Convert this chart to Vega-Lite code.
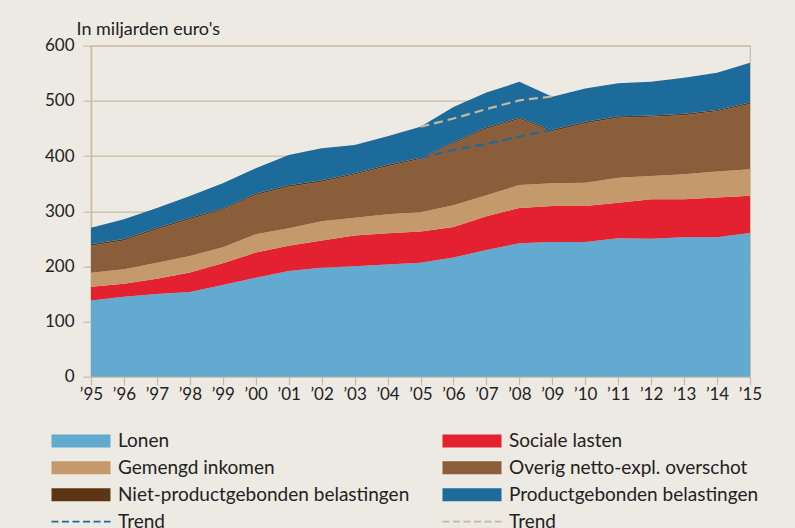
{
  "$schema": "https://vega.github.io/schema/vega-lite/v6.json",
  "width": 659,
  "height": 331,
  "autosize": {"type": "none"},
  "padding": {"left": 91, "top": 45.7, "right": 45, "bottom": 151.3},
  "background": "#EDEAE3",
  "config": {
    "font": "Lato",
    "view": {"stroke": "#C9BBA0", "strokeWidth": 1.2}
  },
  "datasets": {
    "bands": [
      {"year": 1995, "series": "Lonen", "rank": 1, "value": 138},
      {"year": 1996, "series": "Lonen", "rank": 1, "value": 145},
      {"year": 1997, "series": "Lonen", "rank": 1, "value": 150},
      {"year": 1998, "series": "Lonen", "rank": 1, "value": 153.5},
      {"year": 1999, "series": "Lonen", "rank": 1, "value": 166},
      {"year": 2000, "series": "Lonen", "rank": 1, "value": 179.5},
      {"year": 2001, "series": "Lonen", "rank": 1, "value": 191.5},
      {"year": 2002, "series": "Lonen", "rank": 1, "value": 197.5},
      {"year": 2003, "series": "Lonen", "rank": 1, "value": 200},
      {"year": 2004, "series": "Lonen", "rank": 1, "value": 203.5},
      {"year": 2005, "series": "Lonen", "rank": 1, "value": 206.5},
      {"year": 2006, "series": "Lonen", "rank": 1, "value": 216},
      {"year": 2007, "series": "Lonen", "rank": 1, "value": 229.5},
      {"year": 2008, "series": "Lonen", "rank": 1, "value": 242},
      {"year": 2009, "series": "Lonen", "rank": 1, "value": 244},
      {"year": 2010, "series": "Lonen", "rank": 1, "value": 244},
      {"year": 2011, "series": "Lonen", "rank": 1, "value": 251},
      {"year": 2012, "series": "Lonen", "rank": 1, "value": 250},
      {"year": 2013, "series": "Lonen", "rank": 1, "value": 253},
      {"year": 2014, "series": "Lonen", "rank": 1, "value": 253},
      {"year": 2015, "series": "Lonen", "rank": 1, "value": 260.5},

      {"year": 1995, "series": "Sociale lasten", "rank": 2, "value": 25},
      {"year": 1996, "series": "Sociale lasten", "rank": 2, "value": 23.5},
      {"year": 1997, "series": "Sociale lasten", "rank": 2, "value": 27.5},
      {"year": 1998, "series": "Sociale lasten", "rank": 2, "value": 35.5},
      {"year": 1999, "series": "Sociale lasten", "rank": 2, "value": 39.5},
      {"year": 2000, "series": "Sociale lasten", "rank": 2, "value": 45.5},
      {"year": 2001, "series": "Sociale lasten", "rank": 2, "value": 46},
      {"year": 2002, "series": "Sociale lasten", "rank": 2, "value": 49.5},
      {"year": 2003, "series": "Sociale lasten", "rank": 2, "value": 56},
      {"year": 2004, "series": "Sociale lasten", "rank": 2, "value": 56.5},
      {"year": 2005, "series": "Sociale lasten", "rank": 2, "value": 56.5},
      {"year": 2006, "series": "Sociale lasten", "rank": 2, "value": 55.5},
      {"year": 2007, "series": "Sociale lasten", "rank": 2, "value": 61.5},
      {"year": 2008, "series": "Sociale lasten", "rank": 2, "value": 64},
      {"year": 2009, "series": "Sociale lasten", "rank": 2, "value": 65.5},
      {"year": 2010, "series": "Sociale lasten", "rank": 2, "value": 65.5},
      {"year": 2011, "series": "Sociale lasten", "rank": 2, "value": 64.5},
      {"year": 2012, "series": "Sociale lasten", "rank": 2, "value": 71.5},
      {"year": 2013, "series": "Sociale lasten", "rank": 2, "value": 68.5},
      {"year": 2014, "series": "Sociale lasten", "rank": 2, "value": 72},
      {"year": 2015, "series": "Sociale lasten", "rank": 2, "value": 67.5},

      {"year": 1995, "series": "Gemengd inkomen", "rank": 3, "value": 25.5},
      {"year": 1996, "series": "Gemengd inkomen", "rank": 3, "value": 26.5},
      {"year": 1997, "series": "Gemengd inkomen", "rank": 3, "value": 29},
      {"year": 1998, "series": "Gemengd inkomen", "rank": 3, "value": 30},
      {"year": 1999, "series": "Gemengd inkomen", "rank": 3, "value": 29},
      {"year": 2000, "series": "Gemengd inkomen", "rank": 3, "value": 33},
      {"year": 2001, "series": "Gemengd inkomen", "rank": 3, "value": 31.5},
      {"year": 2002, "series": "Gemengd inkomen", "rank": 3, "value": 35},
      {"year": 2003, "series": "Gemengd inkomen", "rank": 3, "value": 32},
      {"year": 2004, "series": "Gemengd inkomen", "rank": 3, "value": 34.5},
      {"year": 2005, "series": "Gemengd inkomen", "rank": 3, "value": 35},
      {"year": 2006, "series": "Gemengd inkomen", "rank": 3, "value": 39.5},
      {"year": 2007, "series": "Gemengd inkomen", "rank": 3, "value": 38},
      {"year": 2008, "series": "Gemengd inkomen", "rank": 3, "value": 41.5},
      {"year": 2009, "series": "Gemengd inkomen", "rank": 3, "value": 41},
      {"year": 2010, "series": "Gemengd inkomen", "rank": 3, "value": 42},
      {"year": 2011, "series": "Gemengd inkomen", "rank": 3, "value": 45},
      {"year": 2012, "series": "Gemengd inkomen", "rank": 3, "value": 42.5},
      {"year": 2013, "series": "Gemengd inkomen", "rank": 3, "value": 45.5},
      {"year": 2014, "series": "Gemengd inkomen", "rank": 3, "value": 47},
      {"year": 2015, "series": "Gemengd inkomen", "rank": 3, "value": 48},

      {"year": 1995, "series": "Overig netto-expl. overschot", "rank": 4, "value": 49},
      {"year": 1996, "series": "Overig netto-expl. overschot", "rank": 4, "value": 52},
      {"year": 1997, "series": "Overig netto-expl. overschot", "rank": 4, "value": 61},
      {"year": 1998, "series": "Overig netto-expl. overschot", "rank": 4, "value": 66.5},
      {"year": 1999, "series": "Overig netto-expl. overschot", "rank": 4, "value": 68},
      {"year": 2000, "series": "Overig netto-expl. overschot", "rank": 4, "value": 71.5},
      {"year": 2001, "series": "Overig netto-expl. overschot", "rank": 4, "value": 75.5},
      {"year": 2002, "series": "Overig netto-expl. overschot", "rank": 4, "value": 71.5},
      {"year": 2003, "series": "Overig netto-expl. overschot", "rank": 4, "value": 78.5},
      {"year": 2004, "series": "Overig netto-expl. overschot", "rank": 4, "value": 87},
      {"year": 2005, "series": "Overig netto-expl. overschot", "rank": 4, "value": 96.5},
      {"year": 2006, "series": "Overig netto-expl. overschot", "rank": 4, "value": 111.5},
      {"year": 2007, "series": "Overig netto-expl. overschot", "rank": 4, "value": 120.5},
      {"year": 2008, "series": "Overig netto-expl. overschot", "rank": 4, "value": 119.5},
      {"year": 2009, "series": "Overig netto-expl. overschot", "rank": 4, "value": 94.5},
      {"year": 2010, "series": "Overig netto-expl. overschot", "rank": 4, "value": 108},
      {"year": 2011, "series": "Overig netto-expl. overschot", "rank": 4, "value": 109},
      {"year": 2012, "series": "Overig netto-expl. overschot", "rank": 4, "value": 107},
      {"year": 2013, "series": "Overig netto-expl. overschot", "rank": 4, "value": 107},
      {"year": 2014, "series": "Overig netto-expl. overschot", "rank": 4, "value": 109},
      {"year": 2015, "series": "Overig netto-expl. overschot", "rank": 4, "value": 118.5},

      {"year": 1995, "series": "Niet-productgebonden belastingen", "rank": 5, "value": 2.5},
      {"year": 1996, "series": "Niet-productgebonden belastingen", "rank": 5, "value": 2.5},
      {"year": 1997, "series": "Niet-productgebonden belastingen", "rank": 5, "value": 2.5},
      {"year": 1998, "series": "Niet-productgebonden belastingen", "rank": 5, "value": 2.5},
      {"year": 1999, "series": "Niet-productgebonden belastingen", "rank": 5, "value": 2.5},
      {"year": 2000, "series": "Niet-productgebonden belastingen", "rank": 5, "value": 2.5},
      {"year": 2001, "series": "Niet-productgebonden belastingen", "rank": 5, "value": 2.5},
      {"year": 2002, "series": "Niet-productgebonden belastingen", "rank": 5, "value": 2.5},
      {"year": 2003, "series": "Niet-productgebonden belastingen", "rank": 5, "value": 2.5},
      {"year": 2004, "series": "Niet-productgebonden belastingen", "rank": 5, "value": 2.5},
      {"year": 2005, "series": "Niet-productgebonden belastingen", "rank": 5, "value": 2.5},
      {"year": 2006, "series": "Niet-productgebonden belastingen", "rank": 5, "value": 2.5},
      {"year": 2007, "series": "Niet-productgebonden belastingen", "rank": 5, "value": 2.5},
      {"year": 2008, "series": "Niet-productgebonden belastingen", "rank": 5, "value": 2.5},
      {"year": 2009, "series": "Niet-productgebonden belastingen", "rank": 5, "value": 2.5},
      {"year": 2010, "series": "Niet-productgebonden belastingen", "rank": 5, "value": 2.5},
      {"year": 2011, "series": "Niet-productgebonden belastingen", "rank": 5, "value": 2.5},
      {"year": 2012, "series": "Niet-productgebonden belastingen", "rank": 5, "value": 2.5},
      {"year": 2013, "series": "Niet-productgebonden belastingen", "rank": 5, "value": 2.5},
      {"year": 2014, "series": "Niet-productgebonden belastingen", "rank": 5, "value": 2.5},
      {"year": 2015, "series": "Niet-productgebonden belastingen", "rank": 5, "value": 2.5},

      {"year": 1995, "series": "Productgebonden belastingen", "rank": 6, "value": 30},
      {"year": 1996, "series": "Productgebonden belastingen", "rank": 6, "value": 36},
      {"year": 1997, "series": "Productgebonden belastingen", "rank": 6, "value": 36},
      {"year": 1998, "series": "Productgebonden belastingen", "rank": 6, "value": 39.5},
      {"year": 1999, "series": "Productgebonden belastingen", "rank": 6, "value": 45.5},
      {"year": 2000, "series": "Productgebonden belastingen", "rank": 6, "value": 46},
      {"year": 2001, "series": "Productgebonden belastingen", "rank": 6, "value": 55},
      {"year": 2002, "series": "Productgebonden belastingen", "rank": 6, "value": 58},
      {"year": 2003, "series": "Productgebonden belastingen", "rank": 6, "value": 51},
      {"year": 2004, "series": "Productgebonden belastingen", "rank": 6, "value": 52},
      {"year": 2005, "series": "Productgebonden belastingen", "rank": 6, "value": 56},
      {"year": 2006, "series": "Productgebonden belastingen", "rank": 6, "value": 64},
      {"year": 2007, "series": "Productgebonden belastingen", "rank": 6, "value": 63},
      {"year": 2008, "series": "Productgebonden belastingen", "rank": 6, "value": 65},
      {"year": 2009, "series": "Productgebonden belastingen", "rank": 6, "value": 60},
      {"year": 2010, "series": "Productgebonden belastingen", "rank": 6, "value": 60.5},
      {"year": 2011, "series": "Productgebonden belastingen", "rank": 6, "value": 60},
      {"year": 2012, "series": "Productgebonden belastingen", "rank": 6, "value": 61},
      {"year": 2013, "series": "Productgebonden belastingen", "rank": 6, "value": 65.5},
      {"year": 2014, "series": "Productgebonden belastingen", "rank": 6, "value": 67.5},
      {"year": 2015, "series": "Productgebonden belastingen", "rank": 6, "value": 72}
    ],
    "trends": [
      {"year": 2005, "series": "Trend-blauw", "value": 397},
      {"year": 2006, "series": "Trend-blauw", "value": 411},
      {"year": 2007, "series": "Trend-blauw", "value": 422},
      {"year": 2008, "series": "Trend-blauw", "value": 435},
      {"year": 2009, "series": "Trend-blauw", "value": 448},
      {"year": 2005, "series": "Trend-beige", "value": 453},
      {"year": 2006, "series": "Trend-beige", "value": 468},
      {"year": 2007, "series": "Trend-beige", "value": 485},
      {"year": 2008, "series": "Trend-beige", "value": 501},
      {"year": 2009, "series": "Trend-beige", "value": 508}
    ]
  },
  "encoding": {
    "x": {
      "field": "year",
      "type": "quantitative",
      "scale": {"domain": [1995, 2015], "nice": false, "zero": false},
      "axis": {
        "title": null,
        "values": [1995,1996,1997,1998,1999,2000,2001,2002,2003,2004,2005,2006,2007,2008,2009,2010,2011,2012,2013,2014,2015],
        "labelExpr": "'’' + slice(format(datum.value, 'd'), 2)",
        "grid": false,
        "domain": false,
        "tickColor": "#C9BBA0",
        "tickSize": 8,
        "tickWidth": 1.2,
        "labelFont": "Lato",
        "labelFontSize": 17,
        "labelColor": "#222222",
        "labelPadding": 2,
        "labelFlush": false,
        "labelOverlap": false
      }
    },
    "color": {
      "field": "series",
      "type": "nominal",
      "scale": {
        "domain": ["Lonen", "Sociale lasten", "Gemengd inkomen", "Overig netto-expl. overschot", "Niet-productgebonden belastingen", "Productgebonden belastingen", "Trend-blauw", "Trend-beige"],
        "range": ["#62AAD0", "#E42131", "#C4996B", "#8A5D3B", "#5C3614", "#1C6B9A", "#1C6B9A", "#C7B79B"]
      },
      "legend": {
        "orient": "none",
        "legendX": -44,
        "legendY": 385.5,
        "direction": "horizontal",
        "columns": 2,
        "columnPadding": 28,
        "rowPadding": 7,
        "title": null,
        "padding": 0,
        "labelFont": "Lato",
        "labelFontSize": 19,
        "labelColor": "#222222",
        "labelOffset": 52,
        "labelLimit": 400,
        "symbolSize": 100,
        "symbolStrokeWidth": 1.8,
        "symbolDash": [7, 3.5],
        "labelExpr": "indexof(datum.label, 'Trend') == 0 ? 'Trend' : datum.label",
        "encode": {
          "symbols": {
            "update": {
              "shape": {"signal": "indexof(datum.value, 'Trend') == 0 ? 'M-1,0H10.8' : 'M-1,-1.3H10.8V1.3H-1Z'"},
              "fill": {"signal": "indexof(datum.value, 'Trend') == 0 ? 'transparent' : scale('color', datum.value)"},
              "stroke": {"signal": "indexof(datum.value, 'Trend') == 0 ? scale('color', datum.value) : 'transparent'"},
              "strokeOpacity": {"signal": "indexof(datum.value, 'Trend') == 0 ? 1 : 0"}
            }
          }
        }
      }
    }
  },
  "layer": [
    {
      "data": {"name": "bands"},
      "mark": {"type": "area", "line": false, "opacity": 1},
      "encoding": {
        "y": {
          "field": "value",
          "type": "quantitative",
          "stack": "zero",
          "scale": {"domain": [0, 600], "nice": false},
          "axis": {
            "title": "In miljarden euro's",
            "titleAngle": 0,
            "titleAlign": "left",
            "titleBaseline": "alphabetic",
            "titleX": -15,
            "titleY": -11,
            "titleFont": "Lato",
            "titleFontSize": 18,
            "titleFontWeight": "normal",
            "titleColor": "#222222",
            "values": [0, 100, 200, 300, 400, 500, 600],
            "grid": true,
            "gridColor": "#C9BBA0",
            "gridWidth": 1.2,
            "domainColor": "#C9BBA0",
            "domainWidth": 1.5,
            "tickColor": "#C9BBA0",
            "tickSize": 8,
            "tickWidth": 1.2,
            "labelFont": "Lato",
            "labelFontSize": 17,
            "labelColor": "#222222",
            "labelPadding": 9
          }
        },
        "order": {"field": "rank", "type": "quantitative"}
      }
    },
    {
      "data": {"name": "trends"},
      "mark": {"type": "line", "strokeDash": [9, 5], "strokeWidth": 2.2},
      "encoding": {
        "y": {"field": "value", "type": "quantitative"}
      }
    }
  ]
}
